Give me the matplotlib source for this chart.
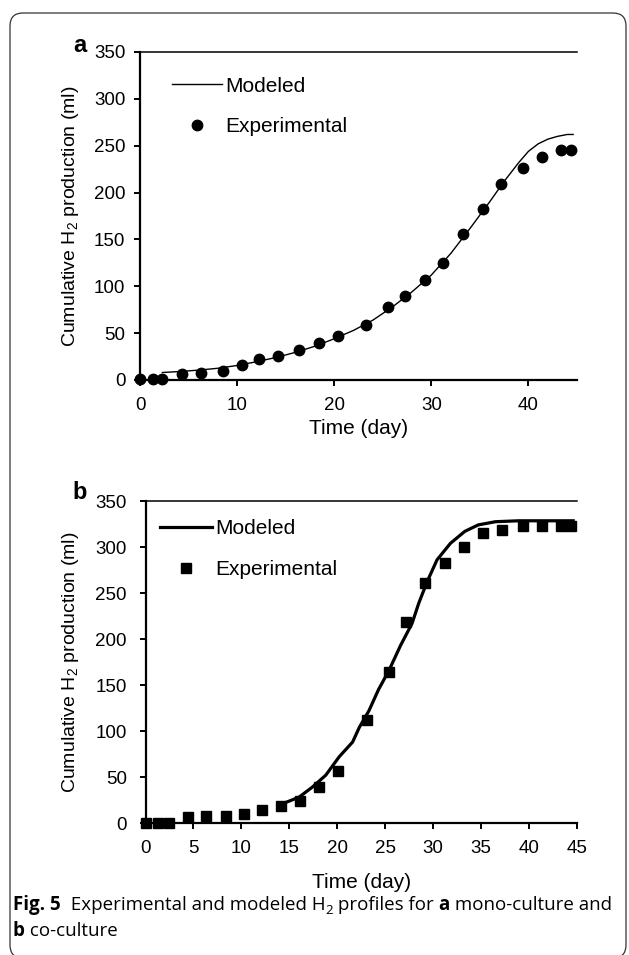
import numpy as np
import matplotlib
matplotlib.use("Agg")
import matplotlib.pyplot as plt
from matplotlib.patches import FancyBboxPatch
from matplotlib.lines import Line2D
from matplotlib.transforms import IdentityTransform

# (a) mono-culture: experimental points and model curve
day_exp_a = [0, 1.3, 2.3, 4.3, 6.3, 8.5, 10.5, 12.3, 14.2, 16.4, 18.4, 20.4,
             23.3, 25.5, 27.3, 29.3, 31.2, 33.3, 35.3, 37.2, 39.4, 41.4, 43.4, 44.4]
h2_exp_a = [1, 1, 1, 6, 8, 10, 16, 22, 26, 32, 40, 47,
            59, 78, 90, 107, 125, 156, 183, 209, 226, 238, 245, 245]
day_mod_a = [2.3, 4, 6, 8, 10, 12, 14, 16, 18, 20, 22, 24, 26, 28, 30, 32, 34,
             36, 37.5, 39, 40, 41, 42, 43, 44, 44.6]
h2_mod_a = [8, 9, 10.5, 12.5, 15.5, 19.5, 24, 29.5, 36, 44, 53, 64, 78, 94, 112,
            135, 162, 190, 212, 232, 244, 252, 257, 260, 262, 262]

# (b) co-culture
day_exp_b = [0, 1.3, 2.4, 4.4, 6.3, 8.4, 10.3, 12.1, 14.1, 16.1, 18.1, 20.1,
             23.1, 25.4, 27.2, 29.2, 31.2, 33.2, 35.2, 37.2, 39.4, 41.3, 43.3, 44.4]
h2_exp_b = [0, 0, 0, 6, 8, 8, 10, 14, 18, 24, 39, 57,
            112, 164, 219, 261, 283, 300, 315, 319, 323, 323, 323, 323]
day_mod_b = [14.3, 16, 17.4, 18.8, 20.2, 21.6, 22.3, 23.3, 24.3, 25.4, 26.6, 27.8,
             28.5, 29.4, 30.4, 31.8, 33.3, 34.7, 36.5, 38.9, 41, 44.6]
h2_mod_b = [21, 28, 39, 52, 72, 88, 104, 122, 145, 166, 193, 217,
            239, 263, 286, 304, 317, 324, 327.5, 328.5, 328.5, 328.5]

plt.rcParams['font.family'] = ['Liberation Sans', 'DejaVu Sans']
plt.rcParams['mathtext.fontset'] = 'custom'
plt.rcParams['mathtext.rm'] = 'Liberation Sans'
plt.rcParams['mathtext.it'] = 'Liberation Sans:italic'
plt.rcParams['mathtext.bf'] = 'Liberation Sans:bold'

W, H = 629, 955
fig = plt.figure(figsize=(W / 100, H / 100), dpi=100)


def px_box(left, top, right, bottom):
    return [left / W, 1 - bottom / H, (right - left) / W, (bottom - top) / H]


# rounded frame around the whole figure (pixel coords, origin bottom-left)
frame = FancyBboxPatch((10, -3), 616, H - 13 + 3,
                       boxstyle="round,pad=0,rounding_size=13",
                       transform=IdentityTransform(), fill=False,
                       edgecolor="#333333", linewidth=0.9)
fig.patches.append(frame)

ax_a = fig.add_axes(px_box(140, 52, 577, 380))
ax_b = fig.add_axes(px_box(145.5, 501, 577, 823))


def style(ax, xticks, xlabelpad, ypad):
    ax.set_xlim(0, 45)
    ax.set_ylim(0, 350)
    ax.set_xticks(xticks)
    ax.set_yticks(range(0, 351, 50))
    ax.spines['right'].set_visible(False)
    ax.spines['left'].set_linewidth(1.6)
    ax.spines['bottom'].set_linewidth(1.6)
    ax.spines['top'].set_linewidth(1.1)
    ax.tick_params(direction='out', length=4, width=1.4, labelsize=13.5)
    ax.tick_params(axis='y', pad=ypad)
    ax.tick_params(axis='x', pad=8)
    ax.set_xlabel('Time (day)', fontsize=15, labelpad=xlabelpad)
    ax.set_ylabel('Cumulative H$_2$ production (ml)', fontsize=14)


# panel a
style(ax_a, range(0, 41, 10), 4, 6.5)
ax_a.plot(day_mod_a, h2_mod_a, color='black', linewidth=1.0)
ax_a.plot(day_exp_a, h2_exp_a, 'o', color='black', markersize=7.5, clip_on=False)
ax_a.yaxis.set_label_coords((81 - 140) / 437, 0.5)
hand_a = [Line2D([], [], color='black', linewidth=1.0),
          Line2D([], [], marker='o', color='black', linestyle='none', markersize=7.5)]
ax_a.legend(hand_a, ['Modeled', 'Experimental'], loc='upper left',
            bbox_to_anchor=(0.073, 0.925), frameon=False, fontsize=15,
            handlelength=2.4, handletextpad=0.15, labelspacing=1.05,
            borderpad=0, borderaxespad=0)
fig.text(80 / W, 1 - 45 / H, 'a', fontsize=17, fontweight='bold',
         ha='center', va='center')

# panel b
style(ax_b, range(0, 46, 5), 12, 9.5)
ax_b.plot(day_mod_b, h2_mod_b, color='black', linewidth=2.3)
ax_b.plot(day_exp_b, h2_exp_b, 's', color='black', markersize=6.8, clip_on=False)
ax_b.yaxis.set_label_coords((81 - 145.5) / 431.5, 0.5)
hand_b = [Line2D([], [], color='black', linewidth=2.3),
          Line2D([], [], marker='s', color='black', linestyle='none', markersize=6.8)]
ax_b.legend(hand_b, ['Modeled', 'Experimental'], loc='upper left',
            bbox_to_anchor=(0.034, 0.943), frameon=False, fontsize=15,
            handlelength=2.5, handletextpad=0.15, labelspacing=1.05,
            borderpad=0, borderaxespad=0)
fig.text(80 / W, 1 - 492 / H, 'b', fontsize=17, fontweight='bold',
         ha='center', va='center')

# caption, built piece by piece so the bold parts sit inline
renderer = fig.canvas.get_renderer()
cap_font = ['Open Sans', 'DejaVu Sans']


def caption_line(x0, y0, pieces, size=13.5):
    x = x0
    for txt, weight, scale, dy in pieces:
        t = fig.text(x / W, 1 - (y0 + dy) / H, txt, fontsize=size * scale,
                     fontweight=weight, family=cap_font, ha='left', va='baseline')
        bb = t.get_window_extent(renderer)
        x += bb.width


caption_line(13, 910, [("Fig. 5", 'bold', 1, 0),
                       ("  Experimental and modeled H", 'normal', 1, 0),
                       ("2", 'normal', 0.7, 4),
                       (" profiles for ", 'normal', 1, 0),
                       ("a", 'bold', 1, 0),
                       (" mono-culture and", 'normal', 1, 0)])
caption_line(13, 936, [("b", 'bold', 1, 0),
                       (" co-culture", 'normal', 1, 0)])

fig.savefig("out.png", dpi=100)
